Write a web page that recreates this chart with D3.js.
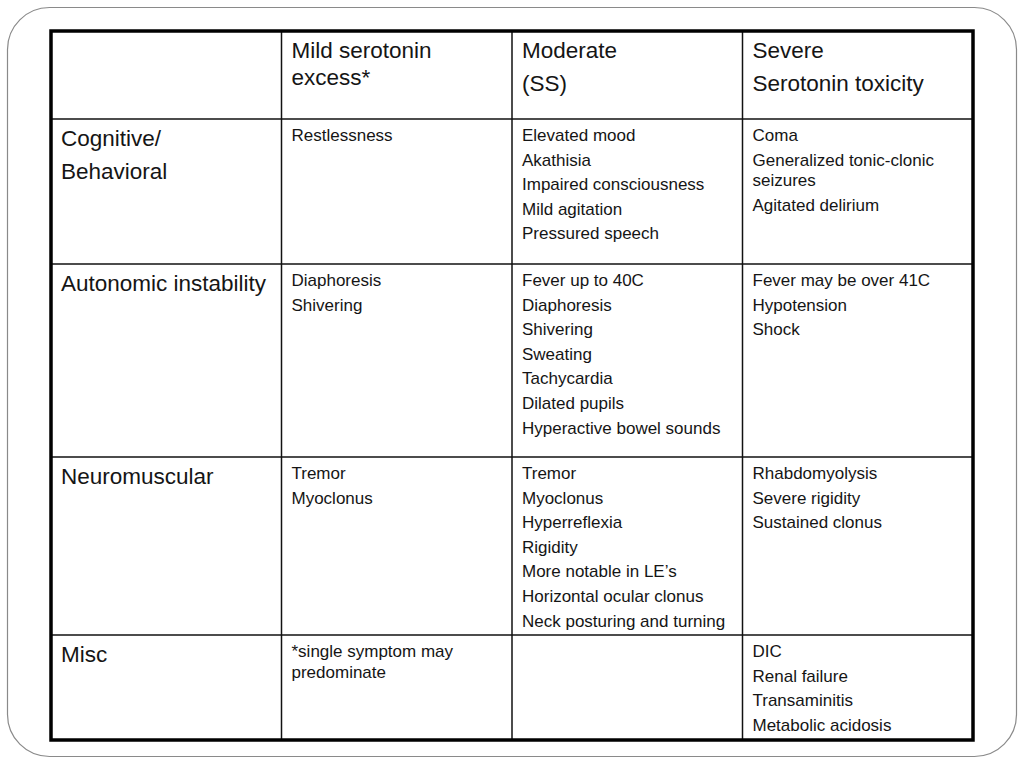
<!DOCTYPE html>
<html>
<head>
  <meta charset="utf-8">
  <title>Serotonin syndrome spectrum</title>
  <script src="https://d3js.org/d3.v7.min.js"></script>
  <style>
    body { margin: 0; background: #fff; }
    text { font-family: "Liberation Sans", Arial, sans-serif; fill: #151515; }
  </style>
</head>
<body>
  <div id="chart"></div>

  <script>
    // Table content
    const columnHeaders = [
      [],
      ["Mild serotonin excess*"],
      ["Moderate", "(SS)"],
      ["Severe", "Serotonin toxicity"]
    ];

    const rowLabels = [
      ["Cognitive/", "Behavioral"],
      ["Autonomic instability"],
      ["Neuromuscular"],
      ["Misc"]
    ];

    const mildSymptoms = [
      ["Restlessness"],
      ["Diaphoresis", "Shivering"],
      ["Tremor", "Myoclonus"],
      ["*single symptom may predominate"]
    ];

    const moderateSymptoms = [
      ["Elevated mood", "Akathisia", "Impaired consciousness", "Mild agitation", "Pressured speech"],
      ["Fever up to 40C", "Diaphoresis", "Shivering", "Sweating", "Tachycardia", "Dilated pupils", "Hyperactive bowel sounds"],
      ["Tremor", "Myoclonus", "Hyperreflexia", "Rigidity", "More notable in LE\u2019s", "Horizontal ocular clonus", "Neck posturing and turning"],
      []
    ];

    const severeSymptoms = [
      ["Coma", "Generalized tonic-clonic seizures", "Agitated delirium"],
      ["Fever may be over 41C", "Hypotension", "Shock"],
      ["Rhabdomyolysis", "Severe rigidity", "Sustained clonus"],
      ["DIC", "Renal failure", "Transaminitis", "Metabolic acidosis"]
    ];

    // Layout
    const W = 1024, H = 768;
    const tableLeft = 51, tableRight = 973;
    const rowEdges = [31, 119, 264, 457, 635, 740];   // header + 4 body rows
    const padX = 10;

    const svg = d3.select("#chart")
      .append("svg")
      .attr("width", W)
      .attr("height", H);

    // slide frame
    svg.append("rect")
      .attr("x", 7.5).attr("y", 7.5)
      .attr("width", 1009).attr("height", 749)
      .attr("rx", 42).attr("ry", 42)
      .attr("fill", "none")
      .attr("stroke", "#8a8a8a")
      .attr("stroke-width", 1.2);

    const x = d3.scaleBand()
      .domain(d3.range(4))
      .range([tableLeft, tableRight]);

    // build rows of cells: header row first
    const rows = [columnHeaders.map(c => ({ items: c, big: true }))];
    rowLabels.forEach((lab, i) => {
      rows.push([
        { items: lab, big: true },
        { items: mildSymptoms[i], big: false },
        { items: moderateSymptoms[i], big: false },
        { items: severeSymptoms[i], big: false }
      ]);
    });

    const bigSize = 22.5, smallSize = 17;
    const wrapWidth = x.bandwidth() - padX - 6;

    rows.forEach((row, r) => {
      const top = rowEdges[r];
      row.forEach((cell, c) => {
        const fs = cell.big ? bigSize : smallSize;
        const paraGap = cell.big ? 33 : 24.6;
        const wrapGap = cell.big ? 27 : 20.6;
        let y = top + (cell.big ? 27 : 22);
        const g = svg.append("g");
        cell.items.forEach((item, k) => {
          if (k > 0) y += paraGap;
          // wrap words to cell width
          const words = item.split(" ");
          let line = [];
          let t = g.append("text")
            .attr("x", x(c) + padX).attr("y", y)
            .attr("font-size", fs);
          words.forEach(w => {
            line.push(w);
            t.text(line.join(" "));
            if (t.node().getComputedTextLength() > wrapWidth && line.length > 1) {
              line.pop();
              t.text(line.join(" "));
              line = [w];
              y += wrapGap;
              t = g.append("text")
                .attr("x", x(c) + padX).attr("y", y)
                .attr("font-size", fs)
                .text(w);
            }
          });
        });
      });
    });

    // inner grid lines
    svg.selectAll(".vline")
      .data(d3.range(1, 4))
      .enter().append("line")
      .attr("x1", d => x(d)).attr("x2", d => x(d))
      .attr("y1", rowEdges[0]).attr("y2", rowEdges[rowEdges.length - 1])
      .attr("stroke", "#111").attr("stroke-width", 1.5);

    svg.selectAll(".hline")
      .data(rowEdges.slice(1, -1))
      .enter().append("line")
      .attr("x1", tableLeft).attr("x2", tableRight)
      .attr("y1", d => d).attr("y2", d => d)
      .attr("stroke", "#111").attr("stroke-width", 1.5);

    // outer table border
    svg.append("rect")
      .attr("x", tableLeft).attr("y", rowEdges[0])
      .attr("width", tableRight - tableLeft)
      .attr("height", rowEdges[rowEdges.length - 1] - rowEdges[0])
      .attr("fill", "none")
      .attr("stroke", "#000")
      .attr("stroke-width", 3.5);
  </script>
</body>
</html>
